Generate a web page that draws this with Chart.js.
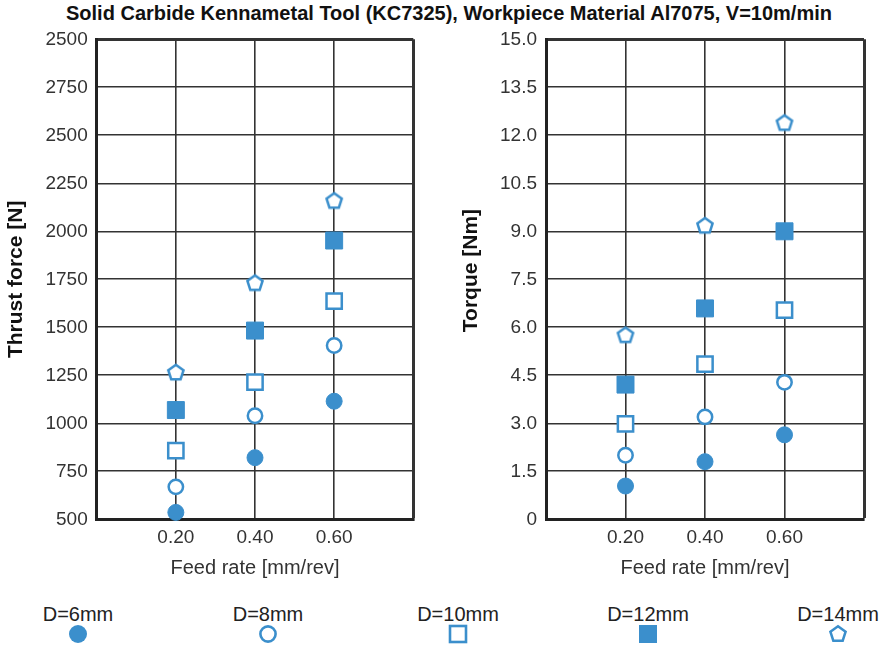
<!DOCTYPE html>
<html>
<head>
<meta charset="utf-8">
<script src="https://cdn.jsdelivr.net/npm/chart.js@4.4.1/dist/chart.umd.min.js"></script>
<style>
  html, body { margin: 0; padding: 0; background: #fff; }
  body { width: 884px; height: 651px; position: relative; overflow: hidden; font-family: "Liberation Sans", Arial, sans-serif; }
  #title { position: absolute; left: 0; top: 2px; width: 898px; text-align: center; font-weight: bold; font-size: 20px; color: #111; white-space: nowrap; }
  .wrap { position: absolute; top: 0; }
  #legend { position: absolute; left: -17px; top: 603px; display: flex; }
  .item { width: 190px; text-align: center; font-size: 20px; line-height: 23px; color: #222; }
  .item svg { display: block; margin: -3px auto 0; }
</style>
</head>
<body>
<div id="title">Solid Carbide Kennametal Tool (KC7325), Workpiece Material Al7075, V=10m/min</div>
<div class="wrap" style="left:0"><canvas id="thrust" width="440" height="590"></canvas></div>
<div class="wrap" style="left:440px"><canvas id="torque" width="444" height="590"></canvas></div>
<div id="legend"></div>

<script>
// feed rates [mm/rev]
const feedRates = [0.2, 0.4, 0.6];
const feedTicks = ['', '0.20', '0.40', '0.60', ''];
const diameters = ['D=6mm', 'D=8mm', 'D=10mm', 'D=12mm', 'D=14mm'];

// thrust force [N]
const thrust6 = [536, 821, 1115];
const thrust8 = [669, 1039, 1405];
const thrust10 = [858, 1215, 1636];
const thrust12 = [1069, 1483, 1952];
const thrust14 = [1267, 1733, 2161];
// (top label reads 2500 in the original figure)
const thrustTicks = ['500', '750', '1000', '1250', '1500', '1750', '2000', '2250', '2500', '2750', '2500'];

// torque [Nm]
const torque6 = [1.04, 1.80, 2.64];
const torque8 = [2.00, 3.20, 4.28];
const torque10 = [2.98, 4.85, 6.54];
const torque12 = [4.21, 6.59, 9.00];
const torque14 = [5.77, 9.19, 12.40];
const torqueTicks = ['0', '1.5', '3.0', '4.5', '6.0', '7.5', '9.0', '10.5', '12.0', '13.5', '15.0'];

const blue = '#3b8fcc';
const font = 'Liberation Sans';

function pentagon(fill) {
  const c = document.createElement('canvas');
  c.width = 22; c.height = 22;
  const g = c.getContext('2d');
  g.beginPath();
  for (let i = 0; i < 5; i++) {
    const a = -Math.PI / 2 + i * 2 * Math.PI / 5;
    const px = 11 + 8 * Math.cos(a), py = 11.7 + 8 * Math.sin(a);
    i ? g.lineTo(px, py) : g.moveTo(px, py);
  }
  g.closePath();
  g.fillStyle = fill;
  g.fill();
  g.lineWidth = 2.5;
  g.strokeStyle = blue;
  g.stroke();
  return c;
}

const markers = [
  { pointStyle: 'circle', radius: 8, bg: blue, bw: 1 },
  { pointStyle: 'circle', radius: 7.2, bg: '#fff', bw: 2.5 },
  { pointStyle: 'rect', radius: 10.8, bg: '#fff', bw: 2.5 },
  { pointStyle: 'rect', radius: 12, bg: blue, bw: 1 },
  { pointStyle: pentagon('#fff'), radius: 9, bg: '#fff', bw: 0 },
];

function datasets(series) {
  return series.map((vals, i) => ({
    label: diameters[i],
    data: vals.map((v, j) => ({ x: feedRates[j], y: v })),
    pointStyle: markers[i].pointStyle,
    pointRadius: markers[i].radius,
    pointBackgroundColor: markers[i].bg,
    pointBorderColor: blue,
    pointBorderWidth: markers[i].bw,
    showLine: false,
    clip: false,
  }));
}

function makeChart(id, series, opt) {
  return new Chart(document.getElementById(id), {
    type: 'scatter',
    data: { datasets: datasets(series) },
    options: {
      responsive: false,
      animation: false,
      layout: { padding: { top: 39.3, right: opt.padRight, left: 0, bottom: 0 } },
      plugins: { legend: { display: false }, tooltip: { enabled: false } },
      scales: {
        x: {
          type: 'linear', min: 0, max: 0.8,
          afterFit: s => { s.height = 70.7; },
          ticks: { stepSize: 0.2, padding: 7, color: '#333', font: { family: font, size: 19 },
            callback: (v, i) => feedTicks[i] },
          grid: { color: '#333', drawTicks: false, lineWidth: c => c.index === 4 ? 3 : 1.6 },
          border: { color: '#222', width: 3 },
          title: { display: true, text: 'Feed rate [mm/rev]', color: '#333', padding: { top: 0, bottom: 10 },
            font: { family: font, size: 20 } },
        },
        y: {
          min: opt.min, max: opt.max,
          afterFit: s => { s.width = opt.axisWidth; },
          ticks: { stepSize: opt.step, padding: 9, color: '#333', font: { family: font, size: 19 },
            callback: (v, i) => opt.labels[i] },
          grid: { color: '#333', drawTicks: false, lineWidth: c => c.index === 10 ? 3 : 1.6 },
          border: { color: '#222', width: 3 },
          title: { display: true, text: opt.title, color: '#111', padding: { top: opt.titlePad, bottom: 0 },
            font: { family: font, size: 21, weight: 'bold' } },
        },
      },
    },
  });
}

makeChart('thrust', [thrust6, thrust8, thrust10, thrust12, thrust14], {
  min: 500, max: 3000, step: 250, labels: thrustTicks, title: 'Thrust force [N]',
  axisWidth: 96.7, padRight: 26.7, titlePad: 4,
});
// leading spaces nudge the rotated title a little upwards, as in the figure
makeChart('torque', [torque6, torque8, torque10, torque12, torque14], {
  min: 0, max: 15, step: 1.5, labels: torqueTicks, title: '   Torque [Nm]',
  axisWidth: 106, padRight: 20, titlePad: 19,
});

// legend: label on top, marker underneath
const legendShapes = [
  '<circle cx="11" cy="11" r="9" fill="' + blue + '"/>',
  '<circle cx="11" cy="11" r="7.6" fill="#fff" stroke="' + blue + '" stroke-width="2.6"/>',
  '<rect x="3" y="3" width="16" height="16" fill="#fff" stroke="' + blue + '" stroke-width="2.6"/>',
  '<rect x="2" y="2" width="18" height="18" fill="' + blue + '"/>',
  '<polygon points="11,3.2 18.6,8.7 15.7,17.7 6.3,17.7 3.4,8.7" fill="#fff" stroke="' + blue + '" stroke-width="2.5"/>',
];
document.getElementById('legend').innerHTML = diameters.map((d, i) =>
  '<div class="item"><div>' + d + '</div><svg width="22" height="22">' + legendShapes[i] + '</svg></div>'
).join('');
</script>
</body>
</html>
